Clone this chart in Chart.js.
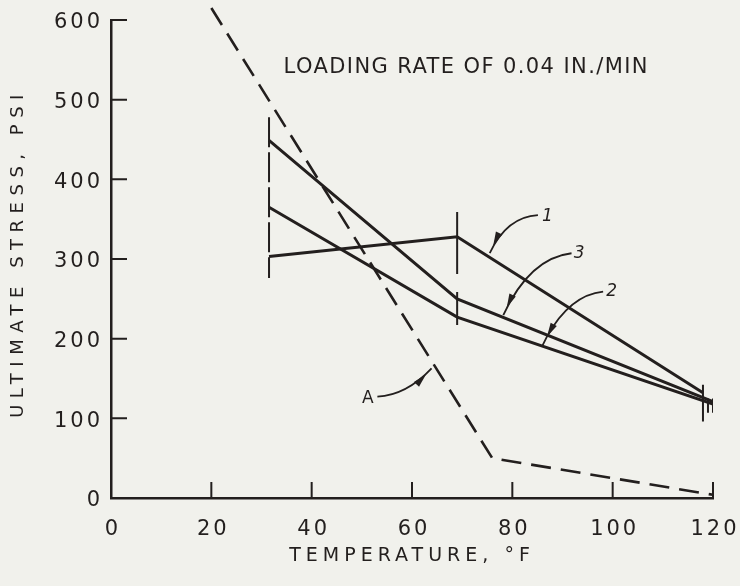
<!DOCTYPE html>
<html>
<head>
<meta charset="utf-8">
<script src="https://cdn.jsdelivr.net/npm/chart.js@4.4.1/dist/chart.umd.min.js"></script>
<style>
  html, body { margin: 0; padding: 0; background: #f1f1ec; }
  #wrap { width: 740px; height: 586px; }
</style>
</head>
<body>
<div id="wrap"><canvas id="chart" width="740" height="586"></canvas></div>
<script>
// temperature (°F) vs ultimate stress (psi)
const temps1 = [31.5, 69, 118];
const stress1 = [303, 328, 132];
const temps2 = [31.5, 69, 120];
const stress2 = [365, 227, 118];
const temps3 = [31.5, 69, 120];
const stress3 = [449, 250, 121];
const tempsA = [20, 76, 120];
const stressA = [615, 50, 4];

// scatter bands at the test temperatures
const bandTemps = [31.5, 69, 118, 119, 120];
const bandLow = [276, 217, 96, 107, 107];
const bandHigh = [478, 359, 142, 125, 125];

const xTicks = [0, 20, 40, 60, 80, 100, 120];
const yTicks = [0, 100, 200, 300, 400, 500, 600];

const INK = "#231f1e";
const FONT = "'DejaVu Sans', sans-serif";
const bandDash = [[30, 5], [62, 18], [], [], []];

// callout arrows, in data units
const callouts = [
  { text: "1", at: [87.0, 353.0], from: [85.1, 355.2], ctrl: [78.9, 353.1], to: [75.5, 307.5] },
  { text: "3", at: [93.3, 307.2], from: [91.8, 307.2], ctrl: [83.5, 301.3], to: [78.2, 229.7] },
  { text: "2", at: [99.8, 259.0], from: [98.1, 259.0], ctrl: [91.5, 254.8], to: [86.9, 202.5], stub: [85.9, 189.9] },
  { text: "A", at: [51.2, 125.1], from: [53.1, 127.2], ctrl: [58.9, 129.3], to: [63.9, 162.8] },
];

function pts(xs, ys) {
  return xs.map((v, i) => ({ x: v, y: ys[i] }));
}

const datasets = [
  { data: pts(temps1, stress1), borderColor: INK, borderWidth: 3 },
  { data: pts(temps2, stress2), borderColor: INK, borderWidth: 3 },
  { data: pts(temps3, stress3), borderColor: INK, borderWidth: 3 },
  { data: pts(tempsA, stressA), borderColor: INK, borderWidth: 2.6, borderDash: [20, 10], clip: false },
].concat(bandTemps.map((t, i) => ({
  data: [{ x: t, y: bandHigh[i] }, { x: t, y: bandLow[i] }],
  borderColor: INK,
  borderWidth: 2,
  borderDash: bandDash[i],
})));
datasets.forEach(d => { d.pointRadius = 0; d.tension = 0; d.fill = false; });

// axis titles in the original are spaced out more than the tick numbers
function spacedTitle(scale, spacing, shiftY) {
  if (scale._spaced) return;
  const orig = scale.drawTitle;
  scale.drawTitle = function () {
    const c = this.ctx;
    c.save();
    c.letterSpacing = spacing;
    c.translate(0, shiftY);
    orig.call(this);
    c.restore();
  };
  scale._spaced = true;
}

const paperPlugin = {
  id: "paper",
  beforeDraw(chart) {
    chart.ctx.letterSpacing = "3px";
  },
  afterDraw(chart) {
    const { ctx, scales: { x, y } } = chart;
    const px = p => [x.getPixelForValue(p[0]), y.getPixelForValue(p[1])];
    ctx.save();
    ctx.letterSpacing = "0px";
    ctx.strokeStyle = INK;
    ctx.fillStyle = INK;
    ctx.lineWidth = 2;

    // inward tick marks
    ctx.beginPath();
    x.ticks.forEach(t => {
      if (t.value === 0) return;
      const xp = x.getPixelForValue(t.value);
      ctx.moveTo(xp, y.bottom);
      ctx.lineTo(xp, y.bottom - 16);
    });
    y.ticks.forEach(t => {
      if (t.value === 0) return;
      const yp = y.getPixelForValue(t.value);
      ctx.moveTo(x.left, yp);
      ctx.lineTo(x.left + 16, yp);
    });
    ctx.stroke();

    // callouts
    callouts.forEach(c => {
      const [sx, sy] = px(c.from);
      const [cx, cy] = px(c.ctrl);
      const [tx, ty] = px(c.to);
      ctx.lineWidth = 1.8;
      ctx.beginPath();
      ctx.moveTo(sx, sy);
      ctx.quadraticCurveTo(cx, cy, tx, ty);
      if (c.stub) {
        const [ux, uy] = px(c.stub);
        ctx.lineTo(ux, uy);
      }
      ctx.stroke();
      const ang = Math.atan2(ty - cy, tx - cx);
      const back = c.stub ? 0 : 8;
      const hx = tx - Math.cos(ang) * back, hy = ty - Math.sin(ang) * back;
      ctx.beginPath();
      ctx.moveTo(hx, hy);
      ctx.lineTo(hx - Math.cos(ang) * 14 + Math.sin(ang) * 3.5, hy - Math.sin(ang) * 14 - Math.cos(ang) * 3.5);
      ctx.lineTo(hx - Math.cos(ang) * 14 - Math.sin(ang) * 3.5, hy - Math.sin(ang) * 14 + Math.cos(ang) * 3.5);
      ctx.closePath();
      ctx.fill();
      const [lx, ly] = px(c.at);
      ctx.font = (c.text === "A" ? "" : "italic ") + "17px " + FONT;
      ctx.textAlign = "center";
      ctx.textBaseline = "middle";
      ctx.fillText(c.text, lx, ly);
    });

    // heading
    const [hx, hy] = px([34.4, 533]);
    ctx.letterSpacing = "1.4px";
    ctx.font = "21px " + FONT;
    ctx.textAlign = "left";
    ctx.textBaseline = "alphabetic";
    ctx.fillText("LOADING RATE OF 0.04 IN./MIN", hx, hy);
    ctx.restore();
  }
};

new Chart(document.getElementById("chart"), {
  type: "line",
  data: { datasets },
  options: {
    responsive: false,
    animation: false,
    layout: { padding: { left: 0, top: 20, right: 27, bottom: 0 } },
    plugins: { legend: { display: false }, tooltip: { enabled: false } },
    scales: {
      x: {
        type: "linear",
        min: 0,
        max: 120,
        afterBuildTicks: s => { s.ticks = xTicks.map(v => ({ value: v })); },
        afterFit: s => {
          s.height = 88; s.paddingLeft = 0; s.paddingRight = 0;
          spacedTitle(s, "5px", 0);
        },
        grid: { display: false, drawTicks: false },
        border: { display: true, color: INK, width: 2.5 },
        ticks: { color: INK, padding: 19, labelOffset: 2, maxRotation: 0, font: { family: FONT, size: 21 } },
        title: {
          display: true,
          text: "TEMPERATURE, °F",
          color: INK,
          font: { family: FONT, size: 19 },
          padding: { top: 0, bottom: 19 },
        },
      },
      y: {
        type: "linear",
        min: 0,
        max: 600,
        afterBuildTicks: s => { s.ticks = yTicks.map(v => ({ value: v })); },
        afterFit: s => {
          s.width = 111; s.paddingTop = 0; s.paddingBottom = 0;
          spacedTitle(s, "6.5px", -6);
        },
        grid: { display: false, drawTicks: false },
        border: { display: true, color: INK, width: 2.5 },
        ticks: { color: INK, padding: 8, labelOffset: 3, font: { family: FONT, size: 21 } },
        title: {
          display: true,
          text: "ULTIMATE STRESS, PSI",
          color: INK,
          font: { family: FONT, size: 18 },
          padding: { top: 8, bottom: 0 },
        },
      },
    },
  },
  plugins: [paperPlugin],
});
</script>
</body>
</html>
